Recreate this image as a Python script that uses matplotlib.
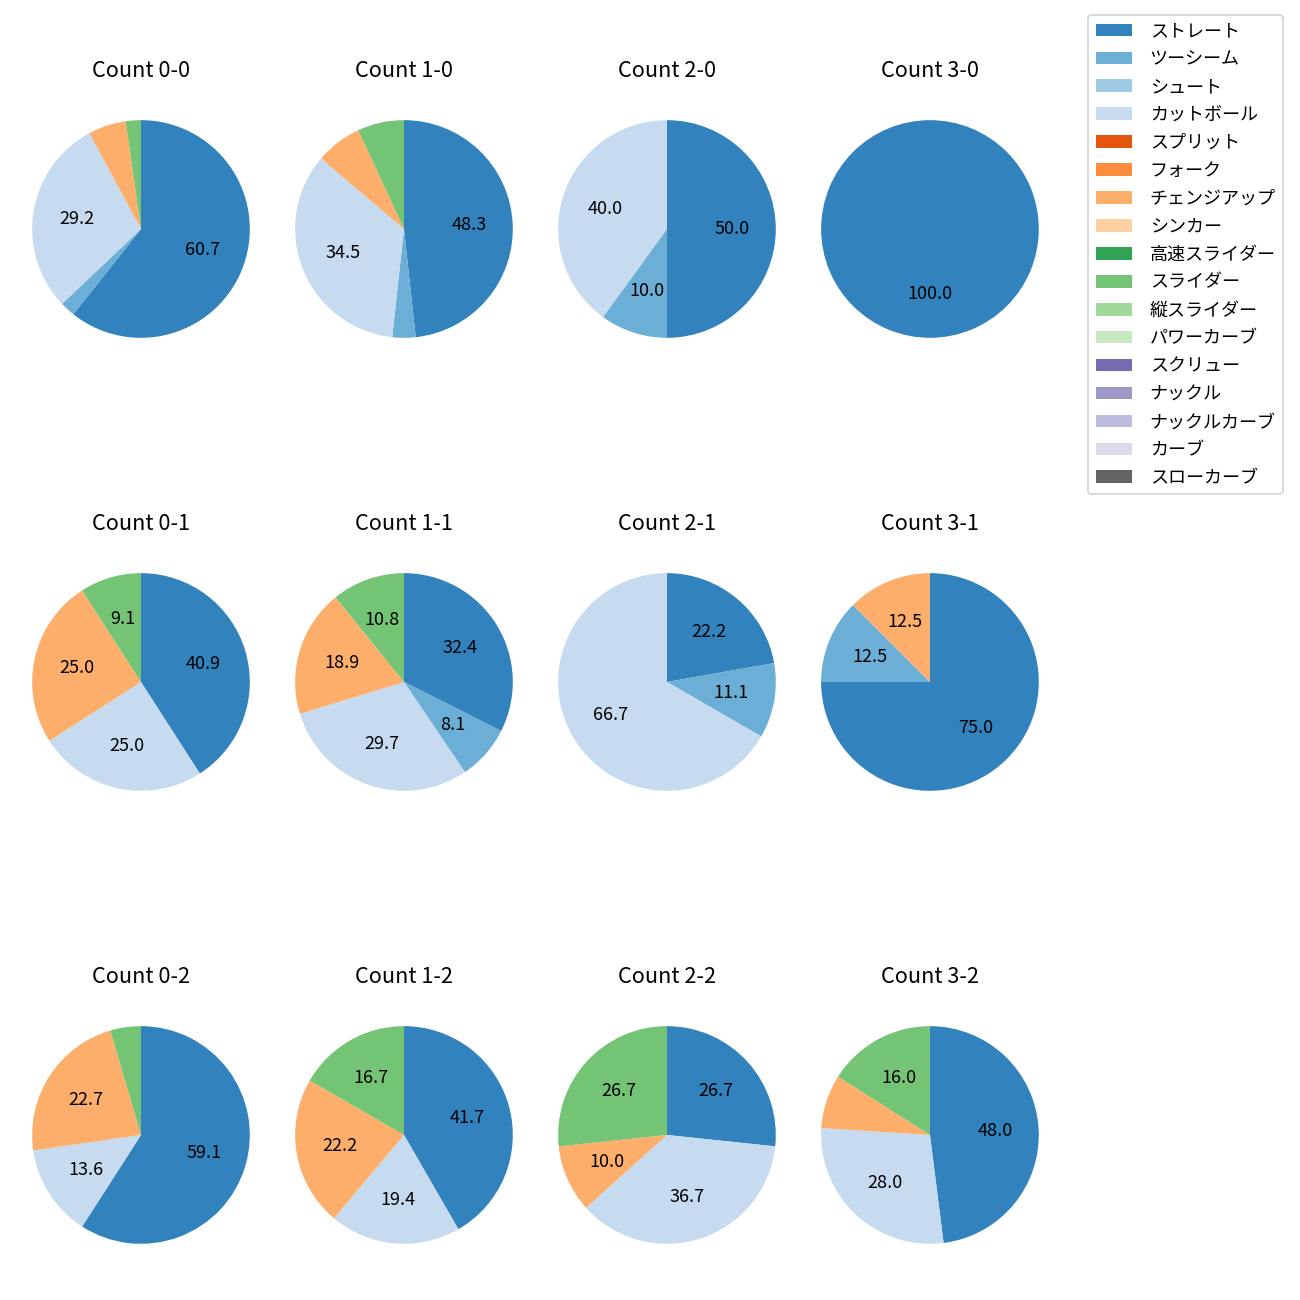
import matplotlib
matplotlib.use("Agg")
import matplotlib.pyplot as plt
from matplotlib.patches import Patch

plt.rcParams['font.family'] = ['Noto Sans CJK JP', 'DejaVu Sans']

pitch_types = ['ストレート', 'ツーシーム', 'シュート', 'カットボール', 'スプリット', 'フォーク',
               'チェンジアップ', 'シンカー', '高速スライダー', 'スライダー', '縦スライダー',
               'パワーカーブ', 'スクリュー', 'ナックル', 'ナックルカーブ', 'カーブ', 'スローカーブ']

counts = ['0-0', '1-0', '2-0', '3-0',
          '0-1', '1-1', '2-1', '3-1',
          '0-2', '1-2', '2-2', '3-2']

# pitch counts per ball-strike count, order follows pitch_types
c_0_0 = [54, 2, 0, 26, 0, 0, 5, 0, 0, 2, 0, 0, 0, 0, 0, 0, 0]
c_1_0 = [14, 1, 0, 10, 0, 0, 2, 0, 0, 2, 0, 0, 0, 0, 0, 0, 0]
c_2_0 = [5, 1, 0, 4, 0, 0, 0, 0, 0, 0, 0, 0, 0, 0, 0, 0, 0]
c_3_0 = [3, 0, 0, 0, 0, 0, 0, 0, 0, 0, 0, 0, 0, 0, 0, 0, 0]
c_0_1 = [18, 0, 0, 11, 0, 0, 11, 0, 0, 4, 0, 0, 0, 0, 0, 0, 0]
c_1_1 = [12, 3, 0, 11, 0, 0, 7, 0, 0, 4, 0, 0, 0, 0, 0, 0, 0]
c_2_1 = [2, 1, 0, 6, 0, 0, 0, 0, 0, 0, 0, 0, 0, 0, 0, 0, 0]
c_3_1 = [6, 1, 0, 0, 0, 0, 1, 0, 0, 0, 0, 0, 0, 0, 0, 0, 0]
c_0_2 = [13, 0, 0, 3, 0, 0, 5, 0, 0, 1, 0, 0, 0, 0, 0, 0, 0]
c_1_2 = [15, 0, 0, 7, 0, 0, 8, 0, 0, 6, 0, 0, 0, 0, 0, 0, 0]
c_2_2 = [8, 0, 0, 11, 0, 0, 3, 0, 0, 8, 0, 0, 0, 0, 0, 0, 0]
c_3_2 = [12, 0, 0, 7, 0, 0, 2, 0, 0, 4, 0, 0, 0, 0, 0, 0, 0]

data = [c_0_0, c_1_0, c_2_0, c_3_0,
        c_0_1, c_1_1, c_2_1, c_3_1,
        c_0_2, c_1_2, c_2_2, c_3_2]

colors = plt.get_cmap('tab20c').colors[:17]

fig, axes = plt.subplots(3, 4, figsize=(10, 10), dpi=130)
fig.subplots_adjust(left=0.0073, right=0.8165, top=0.9285, bottom=0.0223,
                    wspace=0.0, hspace=0.665)

def fmt(p):
    return f'{p:.1f}' if p > 8 else ''

for ax, cnt, vals in zip(axes.flat, counts, data):
    ax.pie(vals, colors=colors, startangle=90, counterclock=False,
           autopct=fmt, textprops={'fontsize': 10})
    ax.set_xlim(-1.2, 1.2)
    ax.set_ylim(-1.25, 1.25)
    ax.set_title(f'Count {cnt}', fontsize=12, pad=9)

handles = [Patch(facecolor=c) for c in colors]
fig.legend(handles, pitch_types, loc='upper right', bbox_to_anchor=(0.9938, 0.9954),
           fontsize=10, labelspacing=0.55, handletextpad=1.0)

fig.savefig('out.png', dpi=130)
